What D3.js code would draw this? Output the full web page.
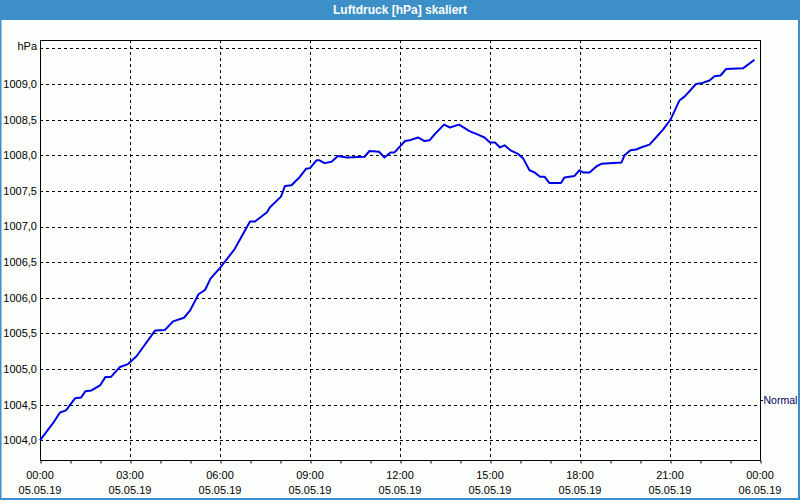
<!DOCTYPE html>
<html>
<head>
<meta charset="utf-8">
<script src="https://cdn.jsdelivr.net/npm/d3@7"></script>
<style>
  html, body { margin: 0; padding: 0; background: #fcfefc; }
  svg { display: block; font-family: "Liberation Sans", Arial, sans-serif; }
</style>
</head>
<body>
<svg id="chart" width="800" height="500"></svg>
<script>
// ---------- data ----------
const title = "Luftdruck [hPa] skaliert";
const unitLabel = "hPa";
const day = "2019-05-05";
const times = ["00:00","00:26","00:40","00:52","01:10","01:22","01:31","01:43","02:00","02:11",
  "02:22","02:40","02:56","03:13","03:50","04:10","04:26","04:48","05:00","05:17",
  "05:30","05:41","06:00","06:29","07:00","07:10","07:34","07:40","08:02","08:10",
  "08:23","08:40","08:52","09:00","09:13","09:19","09:29","09:43","09:56","10:13",
  "10:49","10:59","11:18","11:29","11:41","11:49","12:10","12:19","12:36","12:49",
  "12:59","13:10","13:28","13:40","13:58","14:19","14:36","14:49","15:00","15:10",
  "15:20","15:29","15:41","15:56","16:06","16:19","16:29","16:40","16:49","16:59",
  "17:22","17:29","17:49","17:59","18:06","18:19","18:34","18:43","18:59","19:23",
  "19:29","19:41","19:52","20:02","20:19","20:32","20:46","21:01","21:19","21:30",
  "21:52","22:02","22:19","22:29","22:41","22:52","23:26","23:49"];
const pressure = [1004.00,1004.24,1004.39,1004.42,1004.59,1004.60,1004.69,1004.70,1004.77,1004.89,
  1004.89,1005.03,1005.07,1005.18,1005.54,1005.55,1005.67,1005.72,1005.82,1006.05,
  1006.11,1006.27,1006.42,1006.68,1007.07,1007.07,1007.20,1007.27,1007.42,1007.57,
  1007.58,1007.70,1007.81,1007.82,1007.93,1007.93,1007.89,1007.91,1007.99,1007.97,
  1007.98,1008.06,1008.05,1007.97,1008.04,1008.04,1008.20,1008.21,1008.25,1008.20,
  1008.21,1008.30,1008.43,1008.39,1008.43,1008.34,1008.29,1008.25,1008.18,1008.18,
  1008.11,1008.14,1008.07,1008.02,1007.96,1007.79,1007.76,1007.70,1007.70,1007.61,
  1007.61,1007.69,1007.71,1007.79,1007.76,1007.76,1007.85,1007.88,1007.89,1007.90,
  1008.00,1008.07,1008.08,1008.11,1008.15,1008.25,1008.36,1008.50,1008.77,1008.83,
  1009.00,1009.01,1009.05,1009.11,1009.12,1009.21,1009.22,1009.34];
const yTicks = [1004.0,1004.5,1005.0,1005.5,1006.0,1006.5,1007.0,1007.5,1008.0,1008.5,1009.0];
const yUnitTick = 1009.5;
const yDomain = [1003.724, 1009.618];
const xStart = "2019-05-05 00:00";
const xEnd = "2019-05-06 00:00";
const normalLabel = "Normal";
const normalValue = 1004.57;

// ---------- layout ----------
const W = 800, H = 500;
const m = { left: 40, right: 760, top: 40, bottom: 460 };
const parse = d3.timeParse("%Y-%m-%d %H:%M");
const data = times.map((t, i) => ({ t: parse(day + " " + t), v: pressure[i] }));

const svg = d3.select("#chart");
svg.append("rect").attr("width", W).attr("height", H).attr("fill", "#fcfefc");

// title bar
svg.append("rect").attr("x", 0).attr("y", 0).attr("width", W).attr("height", 20).attr("fill", "#3d8fc7");
svg.append("text").attr("x", W / 2).attr("y", 10).attr("dy", "0.35em")
  .attr("text-anchor", "middle").attr("fill", "#ffffff")
  .attr("font-weight", "bold").attr("font-size", 12).text(title);

// outer frame
svg.append("rect").attr("x", 0).attr("y", 20).attr("width", 1.5).attr("height", H - 20).attr("fill", "#3d8fc7");
svg.append("rect").attr("x", W - 2).attr("y", 20).attr("width", 2).attr("height", H - 20).attr("fill", "#3d8fc7");
svg.append("rect").attr("x", 0).attr("y", H - 2).attr("width", W).attr("height", 2).attr("fill", "#3d8fc7");

const x = d3.scaleTime().domain([parse(xStart), parse(xEnd)]).range([m.left, m.right]);
const y = d3.scaleLinear().domain(yDomain).range([m.bottom, m.top]);

const fmt = v => d3.format(".1f")(v).replace(".", ",");

// horizontal gridlines
const gridY = svg.append("g");
yTicks.concat([yUnitTick]).forEach(v => {
  const yy = Math.round(y(v)) + 0.5;
  gridY.append("line").attr("x1", m.left).attr("x2", m.right).attr("y1", yy).attr("y2", yy)
    .attr("stroke", "#000").attr("stroke-width", 1).attr("stroke-dasharray", "3,3");
});

// vertical gridlines every 3h
const majorTicks = x.ticks(d3.timeHour.every(3));
majorTicks.forEach(t => {
  const xx = Math.round(x(t)) + 0.5;
  if (xx > m.left + 1 && xx < m.right - 1) {
    svg.append("line").attr("x1", xx).attr("x2", xx).attr("y1", m.top).attr("y2", m.bottom)
      .attr("stroke", "#000").attr("stroke-width", 1).attr("stroke-dasharray", "3,3");
  }
});

// plot frame
svg.append("rect").attr("x", m.left + 0.5).attr("y", m.top + 0.5)
  .attr("width", m.right - m.left).attr("height", m.bottom - m.top)
  .attr("fill", "none").attr("stroke", "#000").attr("stroke-width", 1);

// x axis ticks (hourly)
const xAxis = d3.axisBottom(x).ticks(d3.timeHour.every(1)).tickSize(3).tickFormat("");
const gx = svg.append("g").attr("transform", `translate(0.5,${m.bottom + 0.5})`).call(xAxis);
gx.select(".domain").remove();
gx.selectAll("line").attr("stroke", "#000");

// x labels (two lines)
const fTime = d3.timeFormat("%H:%M"), fDate = d3.timeFormat("%d.%m.%y");
majorTicks.forEach(t => {
  const xx = x(t);
  const tx = svg.append("text").attr("x", xx).attr("text-anchor", "middle")
    .attr("font-size", 11).attr("fill", "#000");
  tx.append("tspan").attr("x", xx).attr("y", 475).attr("dy", "0.35em").text(fTime(t));
  tx.append("tspan").attr("x", xx).attr("y", 490).attr("dy", "0.35em").text(fDate(t));
});

// y labels
yTicks.forEach(v => {
  svg.append("text").attr("x", 37).attr("y", y(v)).attr("dy", "0.35em")
    .attr("text-anchor", "end").attr("font-size", 11).attr("fill", "#000").text(fmt(v));
});
svg.append("text").attr("x", 37).attr("y", y(yUnitTick) - 2).attr("dy", "0.35em")
  .attr("text-anchor", "end").attr("font-size", 11).attr("fill", "#000").text(unitLabel);

// Normal marker on right axis
const ny = Math.round(y(normalValue)) + 0.5;
svg.append("line").attr("x1", m.right).attr("x2", m.right + 3).attr("y1", ny).attr("y2", ny)
  .attr("stroke", "#000").attr("stroke-width", 1);
svg.append("text").attr("x", 763.5).attr("y", y(normalValue) + 1).attr("dy", "0.35em")
  .attr("font-size", 10.5).attr("fill", "#000060").text(normalLabel);

// data line
const line = d3.line().x(d => x(d.t)).y(d => y(d.v));
svg.append("path").datum(data).attr("d", line)
  .attr("fill", "none").attr("stroke", "#0000e6").attr("stroke-width", 2)
  .attr("stroke-linejoin", "round");
</script>
</body>
</html>
